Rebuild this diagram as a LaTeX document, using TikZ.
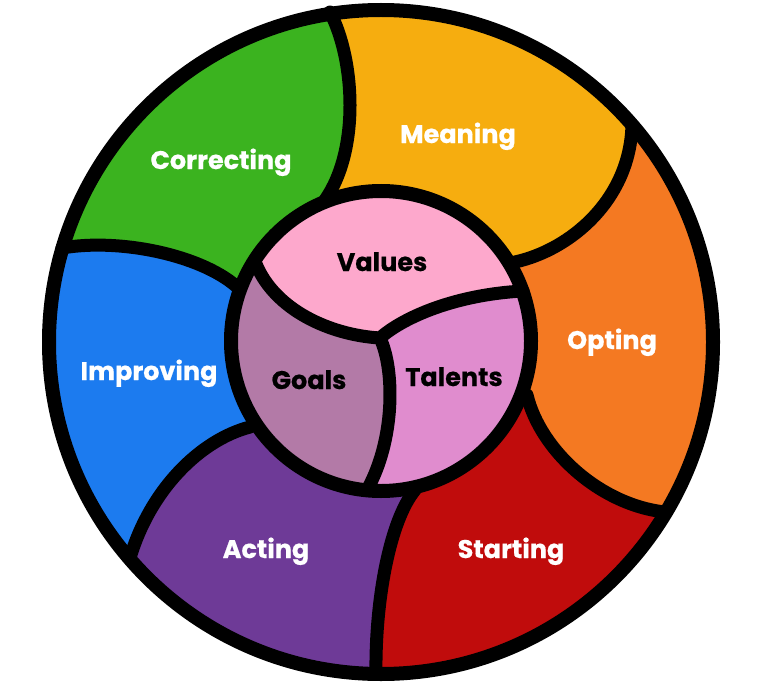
\documentclass[tikz,border=0pt]{standalone}
\usepackage{fontspec}
\setmainfont{Poppins}[BoldFeatures={FakeBold=0.6}]
\definecolor{cGreen}{HTML}{3BB31F}
\definecolor{cYellow}{HTML}{F6AD0F}
\definecolor{cOrange}{HTML}{F47922}
\definecolor{cRed}{HTML}{C00C0C}
\definecolor{cPurple}{HTML}{6E3A97}
\definecolor{cBlue}{HTML}{1C7BEF}
\definecolor{cValues}{HTML}{FDA8CC}
\definecolor{cGoals}{HTML}{B37AA7}
\definecolor{cTalents}{HTML}{E08CCE}
\tikzset{
  seg/.style={line width=13pt, line cap=round},
  ring/.style={line width=14pt},
  lblout/.style={anchor=base, inner sep=0pt, text=white, font=\bfseries\fontsize{25.5}{25.5}\selectfont},
  lblin/.style={anchor=base, inner sep=0pt, text=black, font=\bfseries\fontsize{25.5}{25.5}\selectfont}
}
\begin{document}
\begin{tikzpicture}[x=1pt,y=-1pt]
\useasboundingbox (0,0) rectangle (768,682);
\coordinate (C) at (381,341);
\coordinate (O) at (381,342);
\coordinate (J) at (380,338);
% outer boundaries: inner end, outer end, far point
\coordinate (I1) at (325,200); \coordinate (O1) at (330,12);  \coordinate (F1) at (311,-112);
\coordinate (I2) at (515,262); \coordinate (O2) at (632,125); \coordinate (F2) at (729,41);
\coordinate (I3) at (527,395); \coordinate (O3) at (665,512); \coordinate (F3) at (776,578);
\coordinate (I4) at (415,490); \coordinate (O4) at (376,674); \coordinate (F4) at (374,802);
\coordinate (I5) at (250,427); \coordinate (O5) at (130,558); \coordinate (F5) at (32,642);
\coordinate (I6) at (236,286); \coordinate (O6) at (62,248);  \coordinate (F6) at (-60,212);
% inner boundaries
\coordinate (VG) at (256,264);
\coordinate (VT) at (523,291);
\coordinate (GT) at (367,490);

% ---- outer ring fills
\begin{scope}
\clip (O) circle[radius=332pt];
\fill[cYellow] (C) -- (I1) .. controls (360,150) and (355,60) .. (O1) -- (F1) -- (F2) -- (O2) .. controls (630,200) and (570,250) .. (I2) -- cycle;
\fill[cOrange] (C) -- (I2) .. controls (570,250) and (630,200) .. (O2) -- (F2) -- (F3) -- (O3) .. controls (600,505) and (540,450) .. (I3) -- cycle;
\fill[cRed] (C) -- (I3) .. controls (540,450) and (600,505) .. (O3) -- (F3) -- (F4) -- (O4) .. controls (375,600) and (390,520) .. (I4) -- cycle;
\fill[cPurple] (C) -- (I4) .. controls (390,520) and (375,600) .. (O4) -- (F4) -- (F5) -- (O5) .. controls (150,490) and (200,440) .. (I5) -- cycle;
\fill[cBlue] (C) -- (I5) .. controls (200,440) and (150,490) .. (O5) -- (F5) -- (F6) -- (O6) .. controls (120,238) and (200,255) .. (I6) -- cycle;
\fill[cGreen] (C) -- (I6) .. controls (200,255) and (120,238) .. (O6) -- (F6) -- (F1) -- (O1) .. controls (355,60) and (360,150) .. (I1) -- cycle;
\end{scope}

% ---- inner disc fills
\begin{scope}
\clip (C) circle[radius=150pt];
\fill[cValues] (J) .. controls (330,335) and (275,310) .. (VG) -- (200,150) -- (600,150) -- (VT) .. controls (450,295) and (400,320) .. (J) -- cycle;
\fill[cGoals] (J) .. controls (330,335) and (275,310) .. (VG) -- (150,250) -- (150,560) -- (360,600) -- (GT) .. controls (395,440) and (395,370) .. (J) -- cycle;
\fill[cTalents] (J) .. controls (400,320) and (450,295) .. (VT) -- (620,250) -- (620,560) -- (360,600) -- (GT) .. controls (395,440) and (395,370) .. (J) -- cycle;
\end{scope}

% ---- boundary strokes
\draw[seg] (I1) .. controls (360,150) and (355,60) .. (O1);
\draw[seg] (I2) .. controls (570,250) and (630,200) .. (O2);
\draw[seg] (I3) .. controls (540,450) and (600,505) .. (O3);
\draw[seg] (I4) .. controls (390,520) and (375,600) .. (O4);
\draw[seg] (I5) .. controls (200,440) and (150,490) .. (O5);
\draw[seg] (I6) .. controls (200,255) and (120,238) .. (O6);
\draw[seg] (J) .. controls (330,335) and (275,310) .. (VG);
\draw[seg] (J) .. controls (400,320) and (450,295) .. (VT);
\draw[seg] (J) .. controls (395,370) and (395,440) .. (GT);
\draw[ring] (O) circle[radius=332pt];
\draw[ring] (C) circle[radius=150pt];

% ---- labels
\node[lblout] (correcting) at (221,169) {Correcting};
\node[lblout] (meaning) at (458,143) {Meaning};
\node[lblout] (opting) at (612,349) {Opting};
\node[lblout] (starting) at (511,558) {Starting};
\node[lblout] (acting) at (266,558) {Acting};
\node[lblout] (improving) at (149,380) {Improving};
\node[lblin] (values) at (382,271) {Values};
\node[lblin] (goals) at (309,389) {Goals};
\node[lblin] (talents) at (454,386) {Talents};
\end{tikzpicture}
\end{document}
